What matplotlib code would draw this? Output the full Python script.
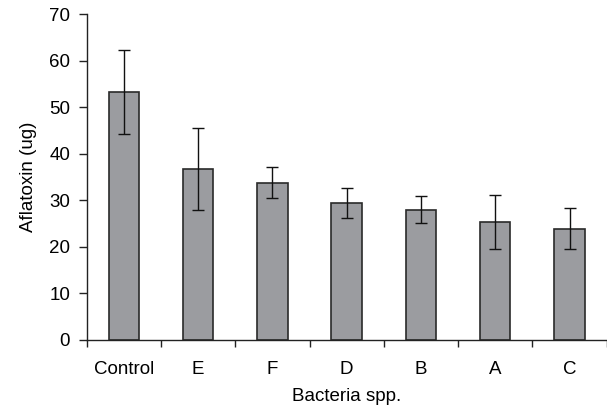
import matplotlib
matplotlib.use("Agg")
import matplotlib.pyplot as plt
import numpy as np

categories = ["Control", "E", "F", "D", "B", "A", "C"]
values = [53.2, 36.8, 33.8, 29.4, 28.0, 25.4, 23.9]
errors = [9.0, 8.8, 3.3, 3.2, 2.9, 5.8, 4.4]
yticks = [0, 10, 20, 30, 40, 50, 60, 70]

plt.rcParams['font.family'] = ['Liberation Sans', 'DejaVu Sans']

W, H = 607, 409
fig = plt.figure(figsize=(W / 100, H / 100), dpi=100)
left, right, top, bottom = 86.7, 606.7, 14, 340
ax = fig.add_axes([left / W, 1 - bottom / H, (right - left) / W, (bottom - top) / H])

x = np.arange(len(categories))
ax.bar(x, values, width=0.41, color="#9b9ca0", edgecolor="#2a2a2a", linewidth=1.2, zorder=2)
ax.errorbar(x, values, yerr=errors, fmt="none", ecolor="#111111", elinewidth=1.0,
            capsize=4, capthick=1.0, zorder=3)

ax.set_xlim(-0.5, len(categories) - 0.5)
ax.set_ylim(0, 70)
ax.set_yticks(yticks)
ax.set_yticklabels([str(v) for v in yticks], fontsize=13.5)
ax.set_xticks(x)
ax.set_xticklabels(categories, fontsize=13.5)
ax.tick_params(axis="x", length=0, pad=15)
ax.set_xticks(np.arange(len(categories) + 1) - 0.5, minor=True)
ax.tick_params(axis="x", which="minor", length=5, width=1.0, direction="out", color="#222222")
ax.tick_params(axis="y", length=6, width=1.0, direction="out", color="#222222", pad=6)

for s in ["top", "right"]:
    ax.spines[s].set_visible(False)
for s in ["left", "bottom"]:
    ax.spines[s].set_linewidth(1.0)
    ax.spines[s].set_color("#222222")

ax.set_xlabel("Bacteria spp.", fontsize=13.5, labelpad=7)
ax.set_ylabel("Aflatoxin (ug)", fontsize=13.5, labelpad=9)

fig.savefig("out.png", dpi=100)
